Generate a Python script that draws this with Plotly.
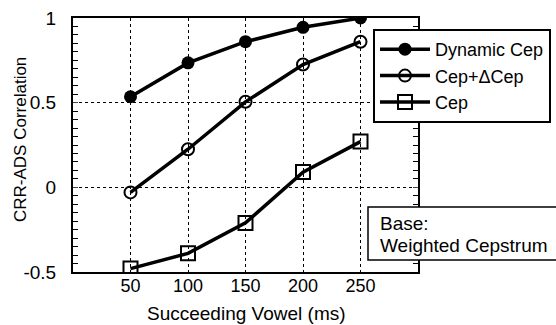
import plotly.graph_objects as go

vowel_ms = [50, 100, 150, 200, 250]
dynamic_cep = [0.535, 0.735, 0.86, 0.945, 1.0]
cep_delta = [-0.03, 0.225, 0.505, 0.725, 0.86]
cep = [-0.48, -0.39, -0.21, 0.09, 0.27]
y_ticks = [-0.5, 0, 0.5, 1]
y_tick_text = ["-0.5", "0", "0.5", "1"]
x_ticks = [50, 100, 150, 200, 250]
y_minor = [round(-0.5 + 0.05 * i, 2) for i in range(31)]

FONT = "Liberation Sans, Arial, sans-serif"
L, R, T, B = 73, 418, 18, 272  # plot area in pixels
PW, PH = R - L, B - T


def f(size):
    return dict(family=FONT, size=size, color="black")


def px(x):
    return (x - L) / PW


def py(y):
    return (B - y) / PH


fig = go.Figure()
fig.add_trace(go.Scatter(x=vowel_ms, y=dynamic_cep, name="Dynamic Cep", mode="lines+markers",
                         line=dict(color="black", width=3.5),
                         marker=dict(symbol="circle", size=13, color="black")))
fig.add_trace(go.Scatter(x=vowel_ms, y=cep_delta, name="Cep+\u0394Cep", mode="lines+markers",
                         line=dict(color="black", width=3.5),
                         marker=dict(symbol="circle-open", size=12, color="black", line=dict(width=2))))
fig.add_trace(go.Scatter(x=vowel_ms, y=cep, name="Cep", mode="lines+markers",
                         line=dict(color="black", width=3.5),
                         marker=dict(symbol="square-open", size=14, color="black", line=dict(width=2))))

fig.update_layout(
    width=556, height=325,
    margin=dict(l=L, r=556 - R, t=T, b=325 - B, autoexpand=False),
    plot_bgcolor="white", paper_bgcolor="white",
    font=f(17),
    showlegend=True,
    legend=dict(x=px(373), y=py(29), xanchor="left", yanchor="top",
                bordercolor="black", borderwidth=2, bgcolor="white",
                font=f(18), tracegroupgap=0, itemwidth=50),
    xaxis=dict(range=[0, 300], tickvals=x_ticks, showgrid=True, gridcolor="black",
               griddash="dot", gridwidth=1, showline=True, linecolor="black", linewidth=2,
               mirror=True, ticks="", zeroline=False, tickfont=f(18),
               ticklabelstandoff=-4, automargin=False),
    yaxis=dict(range=[-0.5, 1], tickvals=y_ticks, ticktext=y_tick_text, showgrid=True,
               gridcolor="black", griddash="dot", gridwidth=1, showline=True,
               linecolor="black", linewidth=2, mirror="allticks", ticks="inside",
               ticklen=5, tickwidth=1, zeroline=False, tickfont=f(19),
               ticklabelstandoff=11, automargin=False,
               minor=dict(tickvals=y_minor, ticks="inside", ticklen=5, tickcolor="black",
                          tickwidth=1, showgrid=False)),
)

# axis titles
fig.add_annotation(xref="paper", yref="paper", x=px(246), y=py(313), xanchor="center",
                   yanchor="middle", showarrow=False, text="Succeeding Vowel (ms)", font=f(19))
fig.add_annotation(xref="paper", yref="paper", x=px(20), y=py(140), xanchor="center",
                   yanchor="middle", showarrow=False, text="CRR-ADS Correlation",
                   textangle=-90, font=f(17))

# "Base" note box
fig.add_shape(type="rect", xref="paper", yref="paper",
              x0=px(368), x1=px(557), y0=py(260), y1=py(207),
              line=dict(color="black", width=1.5), fillcolor="white", layer="above")
fig.add_annotation(xref="paper", yref="paper", x=px(378), y=py(223),
                   xanchor="left", yanchor="middle", showarrow=False,
                   text="Base:", font=f(19))
fig.add_annotation(xref="paper", yref="paper", x=px(378), y=py(245),
                   xanchor="left", yanchor="middle", showarrow=False,
                   text="Weighted Cepstrum", font=f(19))

fig.write_html("out.html")
